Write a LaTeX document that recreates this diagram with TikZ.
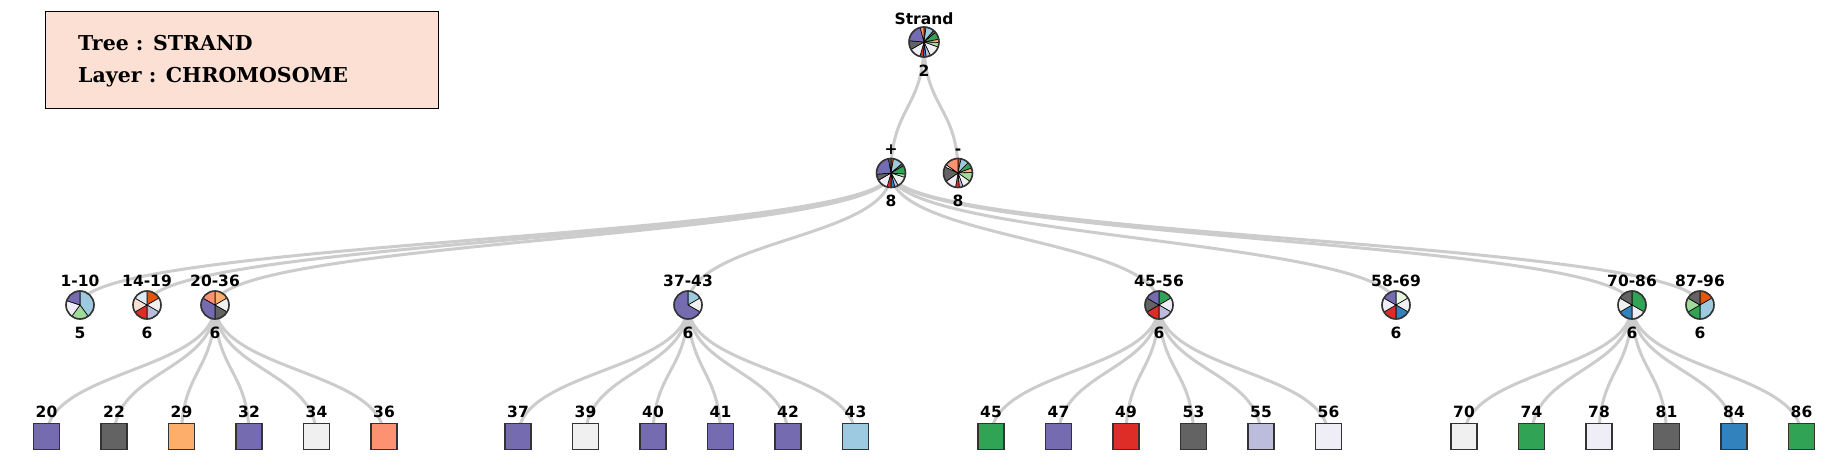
\documentclass[tikz,border=0pt]{standalone}
\usepackage{fontspec}
\newfontfamily\labfont{DejaVu Sans}
\newfontfamily\legfont{DejaVu Serif}
\usetikzlibrary{calc}
\pgfdeclarelayer{back}
\pgfdeclarelayer{bg}
\pgfsetlayers{back,bg,main}
\definecolor{cpur}{HTML}{756BB1}
\definecolor{cgry}{HTML}{636363}
\definecolor{corl}{HTML}{FDAE6B}
\definecolor{cwht}{HTML}{F0F0F0}
\definecolor{csal}{HTML}{FC9272}
\definecolor{clbl}{HTML}{9ECAE1}
\definecolor{cgrn}{HTML}{31A354}
\definecolor{cred}{HTML}{DE2D26}
\definecolor{clav}{HTML}{BCBDDC}
\definecolor{cllv}{HTML}{EFEDF5}
\definecolor{cblu}{HTML}{3182BD}
\definecolor{clgr}{HTML}{A1D99B}
\definecolor{cdor}{HTML}{E6550D}
\definecolor{cpch}{HTML}{FEE0D2}
\definecolor{cvlb}{HTML}{DEEBF7}
\definecolor{cvlg}{HTML}{E5F5E0}
\definecolor{cedge}{HTML}{CCCCCC}
\definecolor{cout}{HTML}{333333}
\definecolor{clegend}{HTML}{FDE0D4}
\tikzset{
  edge/.style={draw=cedge,line width=3pt},
  pienode/.style={circle,minimum size=28pt,inner sep=0pt},
  lab/.style={font=\labfont\bfseries\fontsize{15.5}{18}\selectfont,anchor=base,inner sep=0pt},
  leaf/.style={draw=cout,line width=1.5pt,minimum size=26pt,inner sep=0pt},
  pieout/.style={draw=cout,line width=1.6pt},
  slice/.style={draw=black,line width=0.6pt,line join=round},
  legtext/.style={font=\legfont\bfseries\fontsize{20.5}{24}\selectfont,anchor=base west,inner sep=0pt},
}
\newcommand{\drawpie}[3]{%
  \foreach \a/\b/\c in {#3}{%
    \filldraw[slice,fill=\c] (#1.center) -- ++({90-\a}:#2) arc[start angle={90-\a},end angle={90-\b},radius=#2] -- cycle;}
  \draw[pieout] (#1.center) circle[radius=#2];}
\newcommand{\link}[2]{\draw[edge] (#1.center) .. controls ([yshift=-66pt]#1.center) and ([yshift=66pt]#2.center) .. (#2.center);}
\begin{document}
\begin{tikzpicture}[x=1pt,y=1pt]
\useasboundingbox (0,0) rectangle (1837,-471);
\begin{pgfonlayer}{back}
\fill[white] (0,0) rectangle (1837,-471);
\end{pgfonlayer}

% legend
\node[draw=black,line width=1.5pt,fill=clegend,minimum width=393pt,minimum height=97pt,anchor=north west,inner sep=0pt] (legend) at (44.5,-10.5) {};
\node[legtext] (legtree) at (78,-50) {Tree : STRAND};
\node[legtext] (leglayer) at (78,-82.5) {Layer : CHROMOSOME};

% pie nodes
\node[pienode] (strand) at (924,-42) {};
\node[pienode] (plus) at (891,-173) {};
\node[pienode] (minus) at (958,-173) {};
\foreach \n/\x in {c1/80,c2/147,c3/215,c4/688,c5/1159,c6/1396,c7/1632,c8/1700}{
  \node[pienode] (\n) at (\x,-305) {};}

% leaves
\foreach \n/\x/\c in {20/46.5/cpur,22/114/cgry,29/181.5/corl,32/249/cpur,34/316.5/cwht,36/384/csal,
  37/518/cpur,39/585.5/cwht,40/653/cpur,41/720.5/cpur,42/788/cpur,43/855.5/clbl,
  45/991/cgrn,47/1058.5/cpur,49/1126/cred,53/1193.5/cgry,55/1261/clav,56/1328.5/cllv,
  70/1464/cwht,74/1531.5/cgrn,78/1599/cllv,81/1666.5/cgry,84/1734/cblu,86/1801.5/cgrn}{
  \node[leaf,fill=\c] (l\n) at (\x,-436.5) {};}

% edges
\begin{pgfonlayer}{bg}
\link{strand}{plus}
\link{strand}{minus}
\foreach \n in {c1,c2,c3,c4,c5,c6,c7,c8}{\link{plus}{\n}}
\foreach \n in {20,22,29,32,34,36}{\link{c3}{l\n}}
\foreach \n in {37,39,40,41,42,43}{\link{c4}{l\n}}
\foreach \n in {45,47,49,53,55,56}{\link{c5}{l\n}}
\foreach \n in {70,74,78,81,84,86}{\link{c7}{l\n}}
\end{pgfonlayer}

% pies
\drawpie{strand}{15pt}{0/8/cdor,8/40/clbl,40/50/cgry,50/80/cgrn,80/92/corl,92/110/clgr,110/155/cwht,155/172/clav,172/182/cblu,182/196/cred,196/240/cllv,240/275/cgry,275/345/cpur,345/360/csal}
\drawpie{plus}{14.5pt}{0/10/cdor,10/50/clbl,50/60/cgry,60/95/cgrn,95/108/clgr,108/150/cwht,150/165/clav,165/180/cblu,180/196/cred,196/240/cllv,240/265/cgry,265/350/cpur,350/360/cgry}
\drawpie{minus}{14.5pt}{0/12/cdor,12/45/clbl,45/70/cgrn,70/88/corl,88/125/clgr,125/160/cwht,160/175/clav,175/190/cred,190/235/cllv,235/295/cgry,295/305/cwht,305/360/csal}
\drawpie{c1}{14pt}{0/144/clbl,144/216/clgr,216/288/cllv,288/360/cpur}
\drawpie{c2}{14pt}{0/60/cdor,60/120/cwht,120/180/clav,180/240/cred,240/300/cpch,300/360/cvlb}
\drawpie{c3}{14pt}{0/60/corl,60/120/cwht,120/180/cgry,180/300/cpur,300/360/csal}
\drawpie{c4}{14pt}{0/60/clbl,60/120/cwht,120/360/cpur}
\drawpie{c5}{14pt}{0/60/cgrn,60/120/cllv,120/180/clav,180/240/cred,240/300/cgry,300/360/cpur}
\drawpie{c6}{14pt}{0/60/cvlg,60/120/cwht,120/180/cblu,180/240/cred,240/300/cllv,300/360/cpur}
\drawpie{c7}{14pt}{0/120/cgrn,120/180/cllv,180/240/cblu,240/300/cwht,300/360/cgry}
\drawpie{c8}{14pt}{0/60/cdor,60/180/clbl,180/240/cgrn,240/300/clgr,300/360/cgry}

% labels
\node[lab] (strand-n) at (924,-24) {Strand};
\node[lab] (strand-c) at (924,-76) {2};
\node[lab] (plus-n) at (891,-154) {+};
\node[lab] (plus-c) at (891,-206.5) {8};
\node[lab] (minus-n) at (958,-154) {-};
\node[lab] (minus-c) at (958,-206.5) {8};
\foreach \n/\x/\t/\k in {c1/80/1-10/5,c2/147/14-19/6,c3/215/20-36/6,c4/688/37-43/6,c5/1159/45-56/6,c6/1396/58-69/6,c7/1632/70-86/6,c8/1700/87-96/6}{
  \node[lab] (\n-n) at (\x,-286) {\t};
  \node[lab] (\n-c) at (\x,-338.5) {\k};}
\foreach \n/\x in {20/46.5,22/114,29/181.5,32/249,34/316.5,36/384,37/518,39/585.5,40/653,41/720.5,42/788,43/855.5,
  45/991,47/1058.5,49/1126,53/1193.5,55/1261,56/1328.5,70/1464,74/1531.5,78/1599,81/1666.5,84/1734,86/1801.5}{
  \node[lab] (t\n) at (\x,-417) {\n};}
\end{tikzpicture}
\end{document}
